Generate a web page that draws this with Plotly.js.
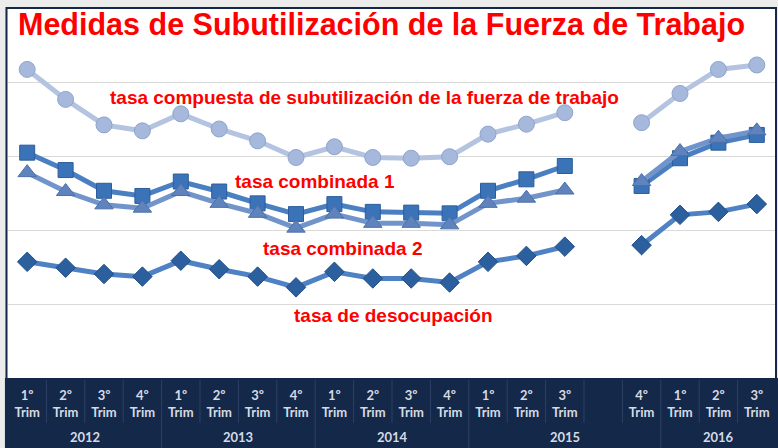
<!DOCTYPE html>
<html><head><meta charset="utf-8">
<script src="https://cdn.plot.ly/plotly-3.0.1.min.js"></script>
<style>html,body{margin:0;padding:0;background:#ececec}</style>
</head><body>
<div id="chart" style="width:778px;height:448px"></div>
<script>
// slots: 20 category positions; slot 15 is an empty column
const slotQuarter = ["1º","2º","3º","4º","1º","2º","3º","4º","1º","2º","3º","4º","1º","2º","3º","","4º","1º","2º","3º"];
const years = ["2012","2013","2014","2015","2016"];
const yearStart = [0,4,8,12,17];
const yearEnd   = [3,7,11,16,19];

const compuesta   = [12.34,11.53,10.84,10.68,11.14,10.73,10.41,9.96,10.25,9.96,9.94,9.98,10.59,10.86,11.17,null,10.90,11.69,12.34,12.46];
const combinada1  = [10.09,9.62,9.06,8.92,9.31,9.04,8.72,8.43,8.70,8.49,8.47,8.45,9.06,9.37,9.73,null,9.19,9.94,10.36,10.57];
const combinada2  = [9.55,9.04,8.68,8.59,9.04,8.72,8.45,8.05,8.43,8.18,8.18,8.14,8.72,8.86,9.08,null,9.31,10.12,10.48,10.68];
const desocupacion= [7.14,6.98,6.81,6.74,7.17,6.94,6.74,6.45,6.87,6.69,6.69,6.58,7.14,7.30,7.55,null,7.59,8.41,8.49,8.70];

const seriesNames = ["tasa compuesta de subutilización de la fuerza de trabajo","tasa combinada 1","tasa combinada 2","tasa de desocupación"];

const xs = slotQuarter.map((_, i) => i);
const tickvals = xs.filter(i => slotQuarter[i] !== "");
const ticktext = tickvals.map(i => "<b>" + slotQuarter[i] + "<br>Trim</b>");

function tr(y, name, lineColor, symbol, fill, edge, size) {
  return {x: xs, y: y, name: name, type: "scatter", mode: "lines+markers", connectgaps: false,
    line: {color: lineColor, width: 5},
    marker: {symbol: symbol, size: size, color: fill, line: {color: edge, width: 1}},
    hoverinfo: "x+y"};
}
const data = [
  tr(compuesta, seriesNames[0], "#b3c3e0", "circle", "#a6b8dc", "#8fa4cc", 16),
  tr(combinada1, seriesNames[1], "#4a7fc1", "square", "#3b73b9", "#2c5d9c", 15),
  tr(combinada2, seriesNames[2], "#7194cb", "triangle-up", "#5f83bd", "#4d70a8", 16),
  tr(desocupacion, seriesNames[3], "#4e82c4", "diamond", "#2c5f9e", "#234f86", 15)
];

const navy = "#14284a";
const sep = "#2c4066";
const plotH = 370;
const shapes = [
  {type:"rect", xref:"paper", yref:"paper", x0:-0.004, x1:1.003, y0:-70/plotH, y1:0, fillcolor:navy, line:{width:0}, layer:"below"},
  {type:"rect", xref:"paper", yref:"paper", x0:-0.002, x1:1.0, y0:-70/plotH, y1:1.0, fillcolor:"rgba(0,0,0,0)", line:{color:navy, width:2}, layer:"above"}
];
for (let k = 0; k < xs.length - 1; k++) {
  shapes.push({type:"line", xref:"x", yref:"paper", x0:k+0.5, x1:k+0.5, y0:-2/plotH, y1:-45/plotH, line:{color:sep, width:1}});
}
for (let j = 0; j < years.length - 1; j++) {
  const b = yearEnd[j] + 0.5;
  shapes.push({type:"line", xref:"x", yref:"paper", x0:b, x1:b, y0:-45/plotH, y1:-70/plotH, line:{color:sep, width:1}});
}
const labelFont = {family:"Liberation Sans, Arial, sans-serif", size:19, color:"#ff0000", weight:"bold"};
const annotations = [
  {x:8.78, y:11.57, xref:"x", yref:"y", text:"<b>"+seriesNames[0]+"</b>", showarrow:false, font:labelFont},
  {x:7.5, y:9.30, xref:"x", yref:"y", text:"<b>"+seriesNames[1]+"</b>", showarrow:false, font:labelFont},
  {x:8.2, y:7.51, xref:"x", yref:"y", text:"<b>"+seriesNames[2]+"</b>", showarrow:false, font:labelFont},
  {x:9.53, y:5.68, xref:"x", yref:"y", text:"<b>"+seriesNames[3]+"</b>", showarrow:false, font:labelFont}
];
years.forEach((yr, j) => {
  annotations.push({x:(yearStart[j]+yearEnd[j])/2, y:-59/plotH, xref:"x", yref:"paper", text:"<b>"+yr+"</b>",
    showarrow:false, yanchor:"middle", font:{family:"Lato, sans-serif", size:13, color:"#d6dae2"}});
});

const layout = {
  width:778, height:448,
  margin:{l:8, r:2, t:8, b:70, pad:0},
  paper_bgcolor:"#ececec", plot_bgcolor:"#ffffff",
  showlegend:false,
  title:{text:"<b>Medidas de Subutilización de la Fuerza de Trabajo</b>", x:18/778, xanchor:"left", xref:"container",
    y:1-14/448, yanchor:"top", yref:"container",
    font:{family:"Liberation Sans, Arial, sans-serif", size:30.5, color:"#ff0000"}},
  xaxis:{type:"linear", range:[-0.5,19.5], tickvals:tickvals, ticktext:ticktext, showgrid:false, zeroline:false,
    showline:false, ticks:"", ticklabelstandoff:8, tickfont:{family:"Lato, sans-serif", size:13, color:"#d6dae2"}, fixedrange:true},
  yaxis:{range:[4,14], tickvals:[6,8,10,12], showticklabels:false, gridcolor:"#d9d9d9", gridwidth:1, zeroline:false,
    showline:false, ticks:"", fixedrange:true},
  shapes:shapes, annotations:annotations
};
Plotly.newPlot("chart", data, layout, {displayModeBar:false, staticPlot:true});
</script>
</body></html>
